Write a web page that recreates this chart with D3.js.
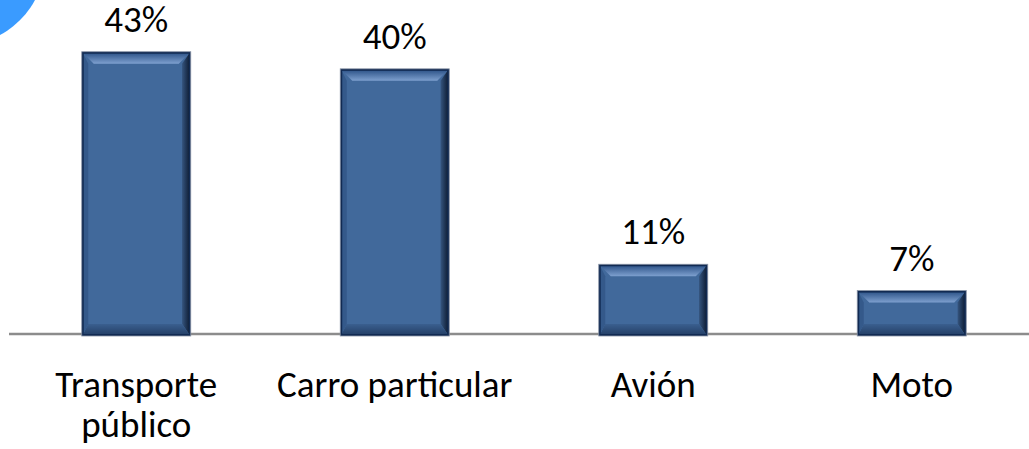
<!DOCTYPE html>
<html>
<head>
<meta charset="utf-8">
<script src="https://cdn.jsdelivr.net/npm/d3@7"></script>
<style>
  body { margin: 0; background: #fff; }
  svg text { font-family: Carlito, Calibri, Lato, sans-serif; fill: #000; }
</style>
</head>
<body>
<svg id="chart"></svg>
<script>
// data
const categories = ["Transporte público", "Carro particular", "Avión", "Moto"];
const catLines = [["Transporte", "público"], ["Carro particular"], ["Avión"], ["Moto"]];
const values = [42.9, 40.3, 10.6, 6.6];
const valueLabels = ["43%", "40%", "11%", "7%"];

const width = 1029, height = 449;
const baseY = 335;

const svg = d3.select("#chart").attr("width", width).attr("height", height);

// blue corner decoration
svg.append("circle")
  .attr("cx", -40).attr("cy", -40).attr("r", 85)
  .attr("fill", "#3a9bff");

const x = d3.scaleBand()
  .domain(categories)
  .range([7, 1041])
  .paddingInner(0.586)
  .paddingOuter(0.293);

const y = d3.scaleLinear()
  .domain([0, 50])
  .range([baseY, baseY - 50 * 6.58]);

// axis line
svg.append("line")
  .attr("x1", 9).attr("x2", width)
  .attr("y1", baseY - 1).attr("y2", baseY - 1)
  .attr("stroke", "#8c8c8c").attr("stroke-width", 2.5);

const defs = svg.append("defs");
const gTop = defs.append("linearGradient").attr("id", "gTop").attr("x1", 0).attr("x2", 0).attr("y1", 0).attr("y2", 1);
gTop.append("stop").attr("offset", "0%").attr("stop-color", "#2c5287");
gTop.append("stop").attr("offset", "100%").attr("stop-color", "#7e a0cf".replace(" ", ""));
const gRight = defs.append("linearGradient").attr("id", "gRight").attr("x1", 0).attr("x2", 1).attr("y1", 0).attr("y2", 0);
gRight.append("stop").attr("offset", "0%").attr("stop-color", "#35557f");
gRight.append("stop").attr("offset", "100%").attr("stop-color", "#0e1c33");
const gBot = defs.append("linearGradient").attr("id", "gBot").attr("x1", 0).attr("x2", 0).attr("y1", 0).attr("y2", 1);
gBot.append("stop").attr("offset", "0%").attr("stop-color", "#3a5f8f");
gBot.append("stop").attr("offset", "100%").attr("stop-color", "#243f66");

const bv = 11; // bevel size

const bars = svg.selectAll("g.bar")
  .data(categories)
  .enter().append("g").attr("class", "bar");

bars.each(function (c, i) {
  const g = d3.select(this);
  const x0 = x(c), x1 = x(c) + x.bandwidth();
  const y0 = y(values[i]), y1 = y(0);
  const b = Math.min(bv, (y1 - y0) / 3);
  g.append("rect")
    .attr("x", x0).attr("y", y0)
    .attr("width", x1 - x0).attr("height", y1 - y0)
    .attr("fill", "#41699b");
  // top bevel
  g.append("polygon")
    .attr("points", [[x0, y0], [x1, y0], [x1 - b, y0 + b], [x0 + b, y0 + b]].join(" "))
    .attr("fill", "url(#gTop)");
  // right bevel
  g.append("polygon")
    .attr("points", [[x1, y0], [x1, y1], [x1 - b * 0.7, y1 - b], [x1 - b * 0.7, y0 + b]].join(" "))
    .attr("fill", "url(#gRight)");
  // bottom bevel
  g.append("polygon")
    .attr("points", [[x0, y1], [x1, y1], [x1 - b * 0.7, y1 - b], [x0 + b * 0.5, y1 - b]].join(" "))
    .attr("fill", "url(#gBot)");
  // left bevel
  g.append("polygon")
    .attr("points", [[x0, y0], [x0 + b * 0.5, y0 + b], [x0 + b * 0.5, y1 - b], [x0, y1]].join(" "))
    .attr("fill", "#34598a");
  g.append("rect")
    .attr("x", x0).attr("y", y0)
    .attr("width", x1 - x0).attr("height", y1 - y0)
    .attr("fill", "none")
    .attr("stroke", "#112a52").attr("stroke-width", 2);
  g.append("rect")
    .attr("x", x0 - 1).attr("y", y0 - 1)
    .attr("width", x1 - x0 + 2).attr("height", y1 - y0 + 2)
    .attr("fill", "none")
    .attr("stroke", "#8a94a6").attr("stroke-width", 0.8);
});

// value labels
svg.selectAll("text.val")
  .data(categories)
  .enter().append("text")
  .attr("class", "val")
  .attr("x", d => x(d) + x.bandwidth() / 2)
  .attr("y", (d, i) => y(values[i]) - 21)
  .attr("text-anchor", "middle")
  .style("font-size", "37px")
  .text((d, i) => valueLabels[i]);

// category labels
const cat = svg.selectAll("text.cat")
  .data(categories)
  .enter().append("text")
  .attr("class", "cat")
  .attr("text-anchor", "middle")
  .style("font-size", "37px");

cat.each(function (d, i) {
  const t = d3.select(this);
  catLines[i].forEach((line, k) => {
    t.append("tspan")
      .attr("x", x(d) + x.bandwidth() / 2)
      .attr("y", 397 + k * 40)
      .text(line);
  });
});
</script>
</body>
</html>
